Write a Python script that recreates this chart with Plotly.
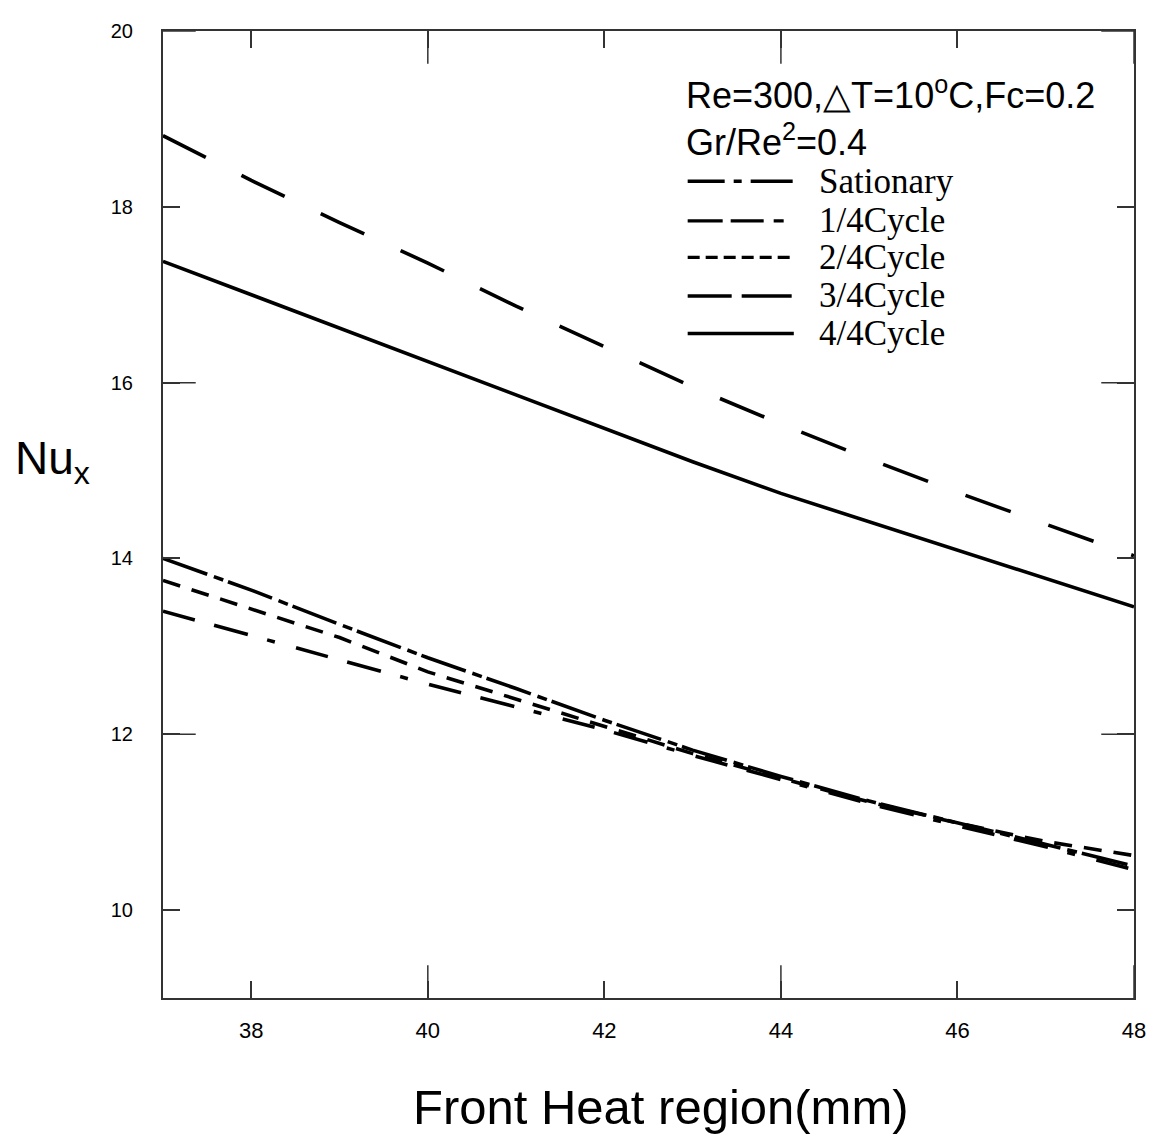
import plotly.graph_objects as go

# ---------------- data ----------------
x_mm = [37, 38, 39, 40, 41, 42, 43, 44, 45, 46, 47, 48]
nu_stationary = [14.00, 13.64, 13.25, 12.87, 12.52, 12.16, 11.82, 11.52, 11.24, 10.99, 10.74, 10.50]
nu_cycle_1_4 = [13.40, 13.12, 12.84, 12.57, 12.31, 12.05, 11.76, 11.49, 11.21, 10.96, 10.72, 10.46]
nu_cycle_2_4 = [13.75, 13.42, 13.10, 12.71, 12.40, 12.08, 11.78, 11.50, 11.23, 10.99, 10.78, 10.62]
nu_cycle_3_4 = [18.81, 18.30, 17.82, 17.36, 16.87, 16.41, 15.95, 15.53, 15.13, 14.75, 14.39, 14.03]
nu_cycle_4_4 = [17.38, 17.00, 16.62, 16.24, 15.85, 15.47, 15.10, 14.74, 14.42, 14.10, 13.77, 13.45]

series_names = ["Sationary", "1/4Cycle", "2/4Cycle", "3/4Cycle", "4/4Cycle"]
x_tick_vals = [38, 40, 42, 44, 46, 48]
y_tick_vals = [10, 12, 14, 16, 18, 20]
x_long_ticks = [40, 44, 48]
y_long_ticks = [12, 16, 20]

# ---------------- styles ----------------
dashes = [
    "47px,7px,10px,5px",              # dash-dot
    "33px,20px,35px,20px,8px,22px",   # long long short
    "18px,12px",                      # short dash
    "48px,40px",                      # long dash
    "solid",
]
legend_dashes = [
    "37px,9px,8px,9px,42px",
    "35px,8px,33px,10px,10px,20px",
    "12px,6px",
    "44px,10px,50px",
    "solid",
]
values = [nu_stationary, nu_cycle_1_4, nu_cycle_2_4, nu_cycle_3_4, nu_cycle_4_4]

# page body has an 8px margin: figure sized to fit the 1166x1144 window exactly
OFF = 8
W, H = 1166 - 2 * OFF, 1144 - 2 * OFF
# plot area in screen pixels: left 163, right 1142, top 20, bottom 998
S_L, S_R, S_T, S_B = 163, 1142, 20, 998
L = S_L - OFF
T = S_T - OFF
R = W - (S_R - OFF)
B = H - (S_B - OFF)
pw, ph = W - L - R, H - T - B

def px_x(px):
    return (px - S_L) / pw

def px_y(py):
    return (S_B - py) / ph

fig = go.Figure()
for name, vals, dash in zip(series_names, values, dashes):
    fig.add_trace(go.Scatter(
        x=x_mm, y=vals, mode="lines", name=name, showlegend=False,
        line=dict(color="black", width=3.6, dash=dash),
    ))

axis_col = "#333333"
fig.update_layout(
    width=W, height=H,
    margin=dict(l=L, r=R, t=T, b=B),
    paper_bgcolor="white", plot_bgcolor="white",
    font=dict(family="Liberation Sans, Arial, sans-serif", color="black"),
    xaxis=dict(
        range=[37, 48], tickvals=x_tick_vals, ticks="inside", ticklen=17,
        tickwidth=1.5, tickcolor=axis_col, showline=True, linecolor=axis_col,
        linewidth=2, mirror="allticks", showgrid=False, zeroline=False,
        tickfont=dict(family="Liberation Sans Narrow, Arial Narrow, Liberation Sans", size=22),
        ticklabelstandoff=12,
    ),
    yaxis=dict(
        range=[9, 20], tickvals=y_tick_vals, ticks="inside", ticklen=17,
        tickwidth=1.5, tickcolor=axis_col, showline=True, linecolor=axis_col,
        linewidth=2, mirror="allticks", showgrid=False, zeroline=False,
        tickfont=dict(family="Liberation Sans, Arial", size=20),
        ticklabelstandoff=24,
    ),
)

shapes = []
long_len = 33
for v in x_long_ticks:
    shapes.append(dict(type="line", xref="x", yref="paper", x0=v, x1=v, y0=0, y1=long_len / ph,
                       line=dict(color=axis_col, width=1.5)))
    shapes.append(dict(type="line", xref="x", yref="paper", x0=v, x1=v, y0=1, y1=1 - long_len / ph,
                       line=dict(color=axis_col, width=1.5)))
for v in y_long_ticks:
    shapes.append(dict(type="line", xref="paper", yref="y", x0=0, x1=long_len / pw, y0=v, y1=v,
                       line=dict(color=axis_col, width=1.5)))
    shapes.append(dict(type="line", xref="paper", yref="y", x0=1, x1=1 - long_len / pw, y0=v, y1=v,
                       line=dict(color=axis_col, width=1.5)))

# custom legend
legend_rows = [172, 212, 249, 288, 326]
annotations = []
for name, dash, py in zip(series_names, legend_dashes, legend_rows):
    shapes.append(dict(type="line", xref="paper", yref="paper",
                       x0=px_x(692), x1=px_x(799), y0=px_y(py), y1=px_y(py),
                       line=dict(color="black", width=3.4, dash=dash)))
    annotations.append(dict(text=name, xref="paper", yref="paper", x=px_x(822), y=px_y(py),
                            xanchor="left", yanchor="middle", showarrow=False,
                            font=dict(family="Liberation Serif, Times New Roman, serif", size=35)))

annotations += [
    dict(text="Re=300,\u25b3T=10<sup>o</sup>C,Fc=0.2", xref="paper", yref="paper",
         x=px_x(688), y=px_y(83), xanchor="left", yanchor="middle", showarrow=False,
         font=dict(size=36)),
    dict(text="Gr/Re<sup>2</sup>=0.4", xref="paper", yref="paper",
         x=px_x(688), y=px_y(130), xanchor="left", yanchor="middle", showarrow=False,
         font=dict(size=36)),
    dict(text="Nu<sub>x</sub>", xref="paper", yref="paper",
         x=px_x(12), y=px_y(455), xanchor="left", yanchor="middle", showarrow=False,
         font=dict(size=46)),
    dict(text="Front Heat region(mm)", xref="paper", yref="paper",
         x=px_x(665), y=px_y(1108), xanchor="center", yanchor="middle", showarrow=False,
         font=dict(size=49)),
]

fig.update_layout(shapes=shapes, annotations=annotations)
fig.write_html("out.html")
